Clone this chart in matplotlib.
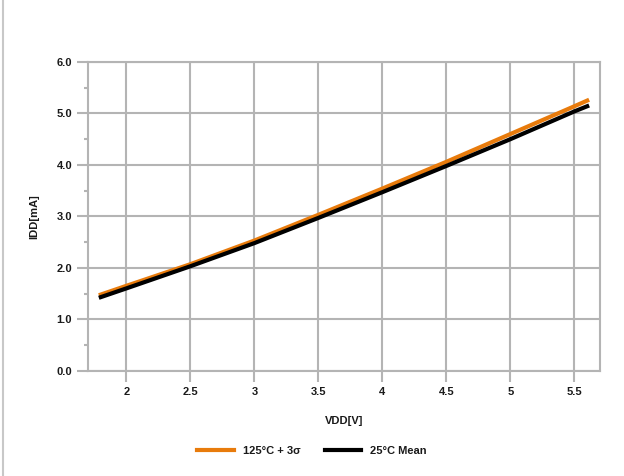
import matplotlib

matplotlib.use("Agg")
import matplotlib.pyplot as plt
from matplotlib.lines import Line2D
from matplotlib.ticker import MultipleLocator

plt.rcParams["font.family"] = ["Liberation Sans", "DejaVu Sans"]

# Werte
vdd = [1.8, 2.0, 2.5, 3.0, 3.5, 4.0, 4.5, 5.0, 5.5, 5.6]
idd_hot_3sigma = [1.48, 1.65, 2.07, 2.53, 3.03, 3.54, 4.06, 4.60, 5.14, 5.25]
idd_mean_25c = [1.43, 1.60, 2.03, 2.48, 2.97, 3.47, 3.98, 4.50, 5.04, 5.14]
x_ticks = [2, 2.5, 3, 3.5, 4, 4.5, 5, 5.5]
x_tick_labels = ["2", "2.5", "3", "3.5", "4", "4.5", "5", "5.5"]
y_ticks = [0, 1, 2, 3, 4, 5, 6]

_ORANGE = "#e87b0c"
_GRID = "#b4b4b4"
_TEXT = "#1a1a1a"

fig = plt.figure(figsize=(6.24, 4.76), dpi=100, facecolor="white")
ax = fig.add_axes([88 / 624, 1 - 370.7 / 476, 512 / 624, 308.7 / 476])

ax.plot(vdd, idd_hot_3sigma, color=_ORANGE, linewidth=3, label="125°C + 3σ", zorder=3)
ax.plot(vdd, idd_mean_25c, color="black", linewidth=3, label="25°C Mean", zorder=4)

ax.set_xlim(1.7, 5.7)
ax.set_ylim(0, 6)
ax.set_xticks(x_ticks)
ax.set_xticklabels(x_tick_labels)
ax.set_yticks(y_ticks)
ax.set_yticklabels([f"{v:.1f}" for v in y_ticks])
ax.yaxis.set_minor_locator(MultipleLocator(0.5))

ax.grid(True, which="major", color=_GRID, linewidth=1.5)
ax.set_axisbelow(True)
for spine in ax.spines.values():
    spine.set_color(_GRID)
    spine.set_linewidth(1.5)

ax.tick_params(axis="both", which="major", length=8, width=1.5, color=_GRID,
               labelsize=8, labelcolor=_TEXT, pad=3.5)
ax.tick_params(axis="y", which="minor", length=3, width=1.5, color=_GRID)
for label in ax.get_xticklabels() + ax.get_yticklabels():
    label.set_fontweight("bold")

ax.set_xlabel("VDD[V]", fontsize=8, fontweight="bold", color=_TEXT, labelpad=14)
ax.set_ylabel("IDD[mA]", fontsize=8, fontweight="bold", color=_TEXT, labelpad=12)

fig.legend(loc="center", bbox_to_anchor=(0.5, 1 - 451 / 476), ncol=2, frameon=False,
           prop={"size": 8, "weight": "bold"}, handlelength=3.3, columnspacing=2.2,
           labelcolor=_TEXT)

# linker Rahmenstrich
fig.add_artist(Line2D([2.5 / 624, 2.5 / 624], [0, 1], transform=fig.transFigure,
                      color="#c8c8c8", linewidth=1.5))

fig.savefig("out.png", dpi=100, facecolor="white")
